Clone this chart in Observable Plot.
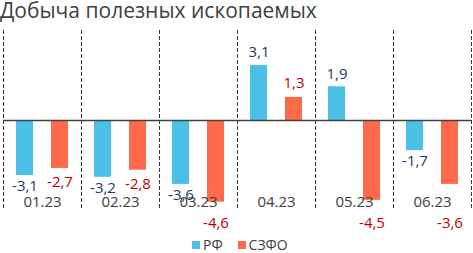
<!DOCTYPE html>
<html><head><meta charset="utf-8">
<script src="https://cdn.jsdelivr.net/npm/d3@7"></script>
<script src="https://cdn.jsdelivr.net/npm/@observablehq/plot@0.6"></script>
<style>
body{margin:0;background:#fff;font-family:"Open Sans",sans-serif;}
#wrap{position:relative;width:473px;height:253px;}
#title{position:absolute;left:0;top:0;font-size:21px;line-height:20px;color:#404040;white-space:nowrap;}
#chart{position:absolute;left:0;top:26px;}
#legend{position:absolute;left:192px;top:238px;font-size:14px;color:#404040;display:flex;align-items:center;white-space:nowrap;line-height:14px;}
.sw{display:inline-block;width:8px;height:8px;margin-right:3px;}
</style></head>
<body><div id="wrap"><div id="title">Добыча полезных ископаемых</div><div id="chart"></div><div id="legend"></div></div>
<script>
const months = ["01.23","02.23","03.23","04.23","05.23","06.23"];
const seriesNames = ["РФ","СЗФО"];
const rf = [-3.1,-3.2,-3.6,3.1,1.9,-1.7];
const szfo = [-2.7,-2.8,-4.6,1.3,-4.5,-3.6];

const barColors = ["#4BC0E6","#FF6A4A"];
const labelColors = ["#1F3864","#C00000"];
const K = 17.75, zeroY = 94;

const data = [];
months.forEach((m,i)=>{
  data.push({month:m, series:seriesNames[0], value:rf[i]});
  data.push({month:m, series:seriesNames[1], value:szfo[i]});
});
const fmt = d => d.value.toFixed(1).replace(".", ",");
const isPushed = d => d.series === seriesNames[1] && d.value < -3.3;
const font = {fontFamily:"Open Sans", fontSize:15};

const chart = Plot.plot({
  width:473, height:206, marginLeft:3, marginRight:2, marginTop:4, marginBottom:22,
  style:{fontFamily:"Open Sans", background:"transparent"},
  fx:{domain:months, padding:0, axis:null},
  x:{domain:seriesNames, paddingInner:0.514, paddingOuter:0.371, axis:null},
  y:{domain:[-4.6,3.1], range:[zeroY+4.6*K, zeroY-3.1*K], axis:null},
  color:{domain:seriesNames, range:barColors},
  marks:[
    Plot.frame({anchor:"left", stroke:"#333", strokeDasharray:"3,3"}),
    Plot.frame({anchor:"right", stroke:"#333", strokeDasharray:"3,3"}),
    Plot.barY(data, {fx:"month", x:"series", y:"value", fill:"series"}),
    Plot.ruleY([0], {stroke:"#404040", strokeWidth:1.5}),
    Plot.text(months, {fx:d=>d, text:d=>d, frameAnchor:"bottom", lineAnchor:"middle", dy:-8, fill:"#404040", ...font}),
    Plot.text(data.filter(d=>d.value>0 && d.series===seriesNames[0]), {fx:"month", x:"series", y:"value", text:fmt, dy:-13, lineAnchor:"middle", fill:labelColors[0], ...font}),
    Plot.text(data.filter(d=>d.value>0 && d.series===seriesNames[1]), {fx:"month", x:"series", y:"value", text:fmt, dy:-14, lineAnchor:"middle", fill:labelColors[1], ...font}),
    Plot.text(data.filter(d=>d.value<0 && d.series===seriesNames[0]), {fx:"month", x:"series", y:"value", text:fmt, dy:11, lineAnchor:"middle", fill:labelColors[0], ...font}),
    Plot.text(data.filter(d=>d.value<0 && d.series===seriesNames[1] && !isPushed(d)), {fx:"month", x:"series", y:"value", text:fmt, dy:14, lineAnchor:"middle", fill:labelColors[1], ...font}),
    Plot.text(data.filter(isPushed), {fx:"month", x:"series", text:fmt, frameAnchor:"bottom", dy:13, lineAnchor:"middle", fill:labelColors[1], ...font})
  ]
});
document.getElementById("chart").appendChild(chart);

const legend = document.getElementById("legend");
seriesNames.forEach((s,i)=>{
  const item = document.createElement("span");
  item.style.display="inline-flex"; item.style.alignItems="center"; item.style.marginRight = i===0 ? "15px" : "0";
  item.innerHTML = `<span class="sw" style="background:${barColors[i]}"></span>${s}`;
  legend.appendChild(item);
});
</script></body></html>
